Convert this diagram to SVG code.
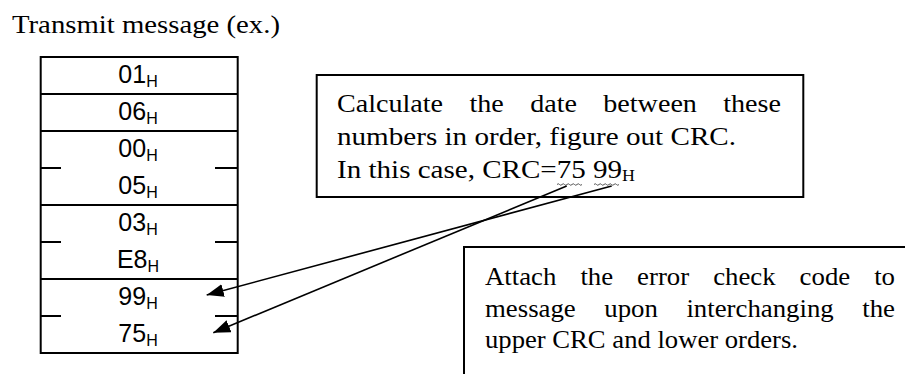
<svg xmlns="http://www.w3.org/2000/svg" width="905" height="374" viewBox="0 0 905 374">
<style>
.ln{stroke:#000;stroke-width:2;fill:none}
.box{stroke:#000;stroke-width:2;fill:#fff}
.lbl{font-family:"Liberation Sans",Arial,sans-serif;font-size:25px;fill:#000;text-anchor:middle}
.sub{font-size:16px}
.ser{font-family:"Liberation Serif","Times New Roman",serif;font-size:26px;fill:#000}
.arr{stroke:#000;stroke-width:1.6;fill:none;marker-end:url(#ah)}
.sq{stroke:#444;stroke-width:0.9;fill:none}
</style>
<defs>
<marker id="ah" markerUnits="userSpaceOnUse" markerWidth="18" markerHeight="14" refX="17" refY="6.5" orient="auto">
<path d="M0,0 L17,6.5 L0,13 z" fill="#000"/>
</marker>
</defs>
<rect width="905" height="374" fill="#fff"/>
<text id="title" class="ser" x="12" y="33" textLength="268" lengthAdjust="spacingAndGlyphs">Transmit message (ex.)</text>
<g id="table">
<rect class="ln" x="40.7" y="57" width="197" height="296"/>
<path class="ln" d="M40.7,94H237.7M40.7,131H237.7M40.7,205H237.7M40.7,279H237.7M40.7,168H61M215,168H237.7M40.7,242H61M215,242H237.7M40.7,316H61M215,316H237.7"/>
<text class="lbl" x="138" y="83">01<tspan class="sub" dy="4">H</tspan></text>
<text class="lbl" x="138" y="120">06<tspan class="sub" dy="4">H</tspan></text>
<text class="lbl" x="138" y="157">00<tspan class="sub" dy="4">H</tspan></text>
<text class="lbl" x="138" y="194">05<tspan class="sub" dy="4">H</tspan></text>
<text class="lbl" x="138" y="231">03<tspan class="sub" dy="4">H</tspan></text>
<text class="lbl" x="138" y="268">E8<tspan class="sub" dy="4">H</tspan></text>
<text class="lbl" x="138" y="305">99<tspan class="sub" dy="4">H</tspan></text>
<text class="lbl" x="138" y="342">75<tspan class="sub" dy="4">H</tspan></text>
</g>
<g id="note1">
<rect class="box" x="316.7" y="75" width="486.6" height="122"/>
<text class="ser" x="337" y="112" word-spacing="17.9" textLength="444" lengthAdjust="spacingAndGlyphs">Calculate the date between these</text>
<text class="ser" x="337" y="145" textLength="399" lengthAdjust="spacingAndGlyphs">numbers in order, figure out CRC.</text>
<text class="ser" x="337" y="178" textLength="298" lengthAdjust="spacingAndGlyphs">In this case, CRC=75 99<tspan font-size="16" dy="3">H</tspan></text>
<path class="sq" d="M557,184.5q1.25,-1.5 2.5,0t2.5,0t2.5,0t2.5,0t2.5,0t2.5,0t2.5,0t2.5,0t2.5,0t2.5,0"/>
<path class="sq" d="M594,184.5q1.25,-1.5 2.5,0t2.5,0t2.5,0t2.5,0t2.5,0t2.5,0t2.5,0t2.5,0t2.5,0t2.5,0"/>
</g>
<g id="note2">
<rect class="box" x="464" y="247" width="460" height="140"/>
<text class="ser" x="485" y="285" word-spacing="16.8" textLength="410" lengthAdjust="spacingAndGlyphs">Attach the error check code to</text>
<text class="ser" x="485" y="317" word-spacing="21.2" textLength="410" lengthAdjust="spacingAndGlyphs">message upon interchanging the</text>
<text class="ser" x="485" y="348" textLength="313" lengthAdjust="spacingAndGlyphs">upper CRC and lower orders.</text>
</g>
<g id="connectors">
<line class="arr" x1="611.7" y1="186" x2="206.7" y2="295"/>
<line class="arr" x1="566.7" y1="186" x2="213.3" y2="332.7"/>
</g>
</svg>
